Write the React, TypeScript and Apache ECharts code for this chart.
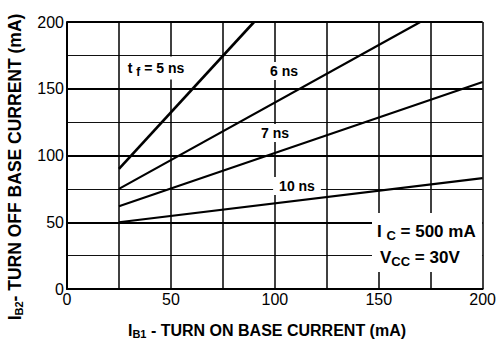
import React, { useEffect, useRef } from "react";
import * as echarts from "echarts";

// Data (I_B1 mA, I_B2 mA)
const tf5: number[][] = [[25, 90], [90, 200]];
const tf6: number[][] = [[25, 75], [170, 200]];
const tf7: number[][] = [[25, 62], [200, 155]];
const tf10: number[][] = [[25, 50], [200, 83]];
const xTickLabels = ["0", "50", "100", "150", "200"];
const yTickLabels = ["0", "50", "100", "150", "200"];

const FONT = "'Liberation Sans', Arial, Helvetica, sans-serif";

export default function App() {
  const ref = useRef<HTMLDivElement>(null);
  useEffect(() => {
    if (!ref.current) return;
    const chart = echarts.init(ref.current, undefined, { renderer: "svg" });
    const lineSeries = (name: string, data: number[][], width: number) => ({
      name,
      type: "line",
      data,
      symbol: "none",
      z: 3,
      lineStyle: { color: "#000", width },
    });
    const subRich = (main: number, sub: number, pad: number) => ({
      a: { fontSize: main, fontWeight: "bold", fontFamily: FONT, color: "#000" },
      s: {
        fontSize: sub,
        fontWeight: "bold",
        fontFamily: FONT,
        color: "#000",
        padding: [pad, 0, 0, 0],
      },
    });
    chart.setOption({
      animation: false,
      backgroundColor: "#fff",
      grid: { left: 67, right: 15, top: 22, bottom: 55, containLabel: false },
      xAxis: {
        type: "value",
        min: 0,
        max: 200,
        interval: 25,
        axisLine: { show: true, onZero: false, lineStyle: { color: "#000", width: 2 } },
        axisTick: { show: false },
        splitLine: { show: true, lineStyle: { color: "#000", width: 1.5 } },
        axisLabel: {
          margin: 2,
          fontSize: 16,
          fontFamily: FONT,
          color: "#000",
          formatter: (v: number) => (v % 50 === 0 ? xTickLabels[Math.round(v / 50)] ?? "" : ""),
        },
      },
      yAxis: {
        type: "value",
        min: 0,
        max: 200,
        interval: 50,
        axisLine: { show: true, onZero: false, lineStyle: { color: "#000", width: 2 } },
        axisTick: { show: false },
        minorTick: { show: false, splitNumber: 2 },
        splitLine: { show: true, lineStyle: { color: "#000", width: 2 } },
        minorSplitLine: { show: true, lineStyle: { color: "#111", width: 1.2 } },
        axisLabel: {
          margin: 3,
          fontSize: 16,
          fontFamily: FONT,
          color: "#000",
          formatter: (v: number) => yTickLabels[Math.round(v / 50)] ?? "",
        },
      },
      series: [
        lineSeries("5 ns", tf5, 2.6),
        lineSeries("6 ns", tf6, 2.2),
        lineSeries("7 ns", tf7, 2.2),
        lineSeries("10 ns", tf10, 2.2),
      ],
      graphic: [
        {
          type: "rect",
          z: 1,
          shape: { x: 372, y: 213, width: 110, height: 59 },
          style: { fill: "#fff" },
        },
        {
          type: "text",
          z: 1,
          x: 156,
          y: 68,
          style: {
            text: "{a|t }{s|f}{a| = 5 ns}",
            rich: subRich(14, 12, 7),
            align: "center",
            verticalAlign: "middle",
            backgroundColor: "#fff",
            padding: [2, 3, 2, 3],
          },
        },
        {
          type: "text",
          z: 1,
          x: 284,
          y: 71,
          style: {
            text: "6 ns",
            font: `bold 14px ${FONT}`,
            fill: "#000",
            align: "center",
            verticalAlign: "middle",
            backgroundColor: "#fff",
            padding: [2, 3, 2, 3],
          },
        },
        {
          type: "text",
          z: 1,
          x: 275,
          y: 133,
          style: {
            text: "7 ns",
            font: `bold 14px ${FONT}`,
            fill: "#000",
            align: "center",
            verticalAlign: "middle",
            backgroundColor: "#fff",
            padding: [2, 3, 2, 3],
          },
        },
        {
          type: "text",
          z: 1,
          x: 297,
          y: 186,
          style: {
            text: "10 ns",
            font: `bold 14px ${FONT}`,
            fill: "#000",
            align: "center",
            verticalAlign: "middle",
            backgroundColor: "#fff",
            padding: [2, 6, 2, 6],
          },
        },
        {
          type: "text",
          z: 1,
          x: 377,
          y: 231,
          style: {
            text: "{a|I }{s|C}{a| = 500 mA}",
            rich: subRich(17, 13, 8),
            align: "left",
            verticalAlign: "middle",
          },
        },
        {
          type: "text",
          z: 1,
          x: 380,
          y: 257,
          style: {
            text: "{a|V}{s|CC}{a| = 30V}",
            rich: subRich(17, 13, 8),
            align: "left",
            verticalAlign: "middle",
          },
        },
        {
          type: "text",
          x: 267,
          y: 330,
          style: {
            text: "{a|I}{s|B1}{a| - TURN ON BASE CURRENT (mA)}",
            rich: subRich(16, 11, 7),
            align: "center",
            verticalAlign: "middle",
          },
        },
        {
          type: "text",
          x: 15,
          y: 167,
          rotation: Math.PI / 2,
          style: {
            text: "{a|I}{s|B2}{a|- TURN OFF BASE CURRENT (mA)}",
            rich: subRich(17.5, 11, 7),
            align: "center",
            verticalAlign: "middle",
          },
        },
      ],
    });
    return () => chart.dispose();
  }, []);
  return (
    <div
      ref={ref}
      style={{ position: "fixed", left: 0, top: 0, width: 499, height: 344 }}
    />
  );
}
